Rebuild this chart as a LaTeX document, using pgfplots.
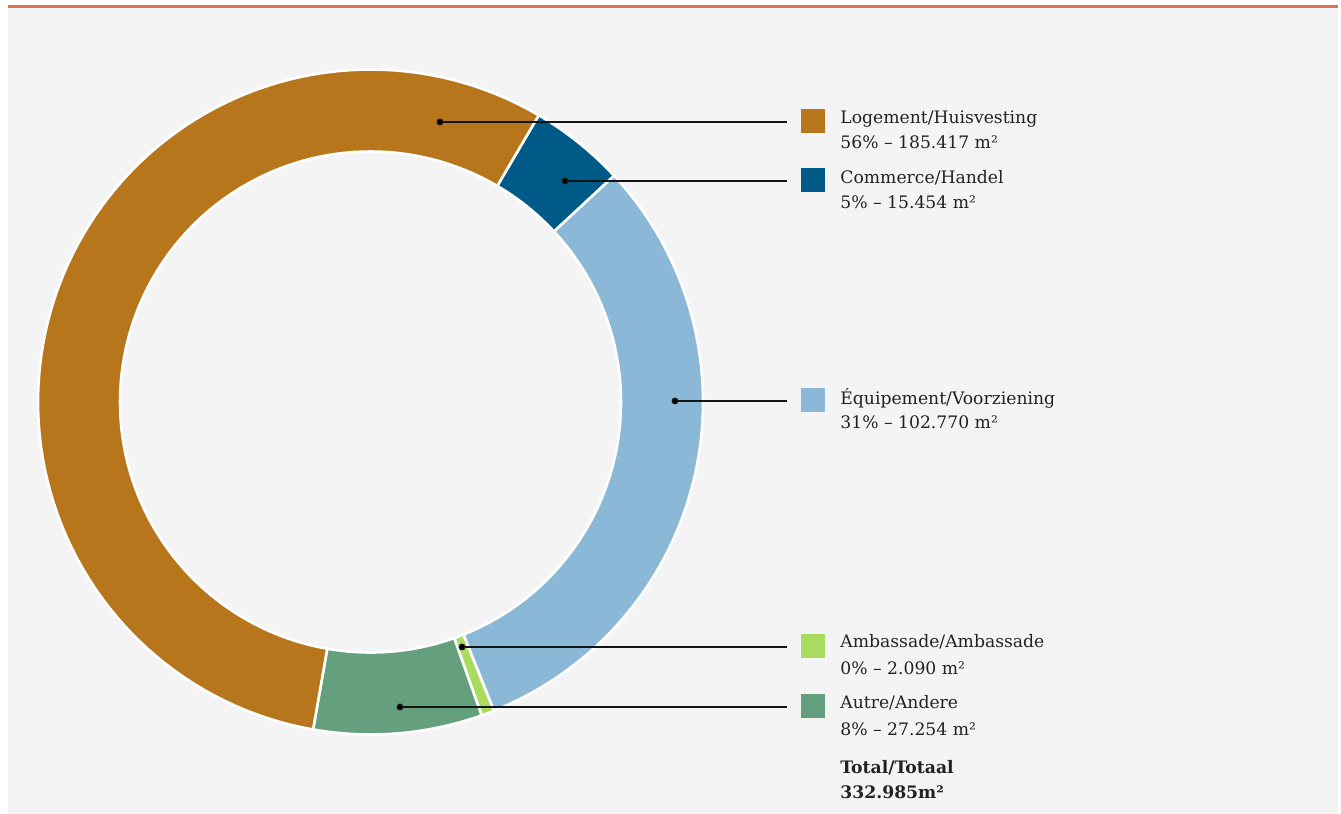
\documentclass[border=0pt]{standalone}
\usepackage{pgfplots}
\pgfplotsset{compat=1.18}
\usepackage{fontspec}
\setmainfont{DejaVu Serif}
\definecolor{bg}{HTML}{F3F4F3}
\definecolor{topline}{HTML}{E07155}
\definecolor{cLog}{HTML}{B8761C}
\definecolor{cCom}{HTML}{005A87}
\definecolor{cEqu}{HTML}{8AB8D6}
\definecolor{cAmb}{HTML}{A8DC5E}
\definecolor{cAut}{HTML}{64A07E}
\definecolor{txt}{HTML}{222222}
% data, in thousands of m2
\def\vLog{185.417}
\def\vCom{15.454}
\def\vEqu{102.770}
\def\vAmb{2.090}
\def\vAut{27.254}
\pgfmathsetmacro\tot{\vLog+\vCom+\vEqu+\vAmb+\vAut}
\pgfmathsetmacro\aA{59.6}
\pgfmathsetmacro\aB{\aA-360*(\vCom/\tot)}
\pgfmathsetmacro\aC{\aB-360*(\vEqu/\tot)}
\pgfmathsetmacro\aD{\aC-360*(\vAmb/\tot)}
\pgfmathsetmacro\aE{\aD-360*(\vAut/\tot)}
\pgfmathsetmacro\aF{\aE-360*(\vLog/\tot)}
\newcommand\ring[3]{%
  \addplot[fill=#3, draw=white, line width=1.3bp, domain=0:2.01, samples=202, variable=\t]
  ({370.5+((\t<1.005)*332.5+(\t>1.005)*250.5)*cos((\t<1.005)*((#1)+((#2)-(#1))*\t)+(\t>1.005)*((#2)+((#1)-(#2))*(\t-1.01)))},
   {412+((\t<1.005)*332.5+(\t>1.005)*250.5)*sin((\t<1.005)*((#1)+((#2)-(#1))*\t)+(\t>1.005)*((#2)+((#1)-(#2))*(\t-1.01)))}) -- cycle;
}
\newcommand\leader[3]{%
  \addplot[line width=0.7bp, color=black!92, mark=*, mark indices={1}, mark size=1.35bp, mark options={fill=black}]
    coordinates {(#1,#2) (787,#2)};
  \addplot[only marks, mark=square*, mark size=5.75bp, color=#3] coordinates {(812.5,#2+1)};
}
\newcommand\txt[3][]{%
  \node[anchor=base west, inner sep=0pt, text=txt, font=\fontsize{8.6bp}{10bp}\selectfont#1] at (axis cs:840,#2) {#3};
}
\begin{document}
\begin{tikzpicture}
\begin{axis}[
  width=670.5bp, height=407bp, scale only axis,
  xmin=0, xmax=1341, ymin=0, ymax=814,
  hide axis, clip=false]
\path (axis cs:0,0) rectangle (axis cs:1341,814);
\fill[bg] (axis cs:8,0) rectangle (axis cs:1338,806.5);
\fill[topline] (axis cs:8,805.8) rectangle (axis cs:1338,809.2);
\ring{\aA}{\aB}{cCom}
\ring{\aB}{\aC}{cEqu}
\ring{\aC}{\aD}{cAmb}
\ring{\aD}{\aE}{cAut}
\ring{\aE}{\aF}{cLog}
\leader{440}{692}{cLog}
\leader{565}{633}{cCom}
\leader{675}{413}{cEqu}
\leader{462}{167}{cAmb}
\leader{400}{107}{cAut}
\txt{690}{Logement/Huisvesting}
\txt{665}{56\% – 185.417 m²}
\txt{630}{Commerce/Handel}
\txt{605}{5\% – 15.454 m²}
\txt{409}{Équipement/Voorziening}
\txt{385}{31\% – 102.770 m²}
\txt{166}{Ambassade/Ambassade}
\txt{139}{0\% – 2.090 m²}
\txt{105}{Autre/Andere}
\txt{78}{8\% – 27.254 m²}
\txt[\bfseries]{41}{Total/Totaal}
\txt[\bfseries]{16}{332.985m²}
\end{axis}
\end{tikzpicture}
\end{document}
